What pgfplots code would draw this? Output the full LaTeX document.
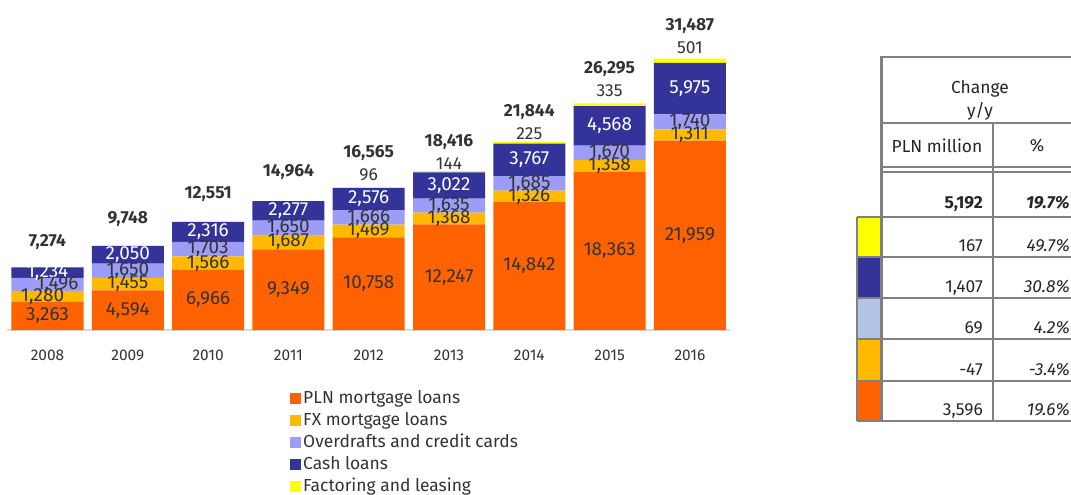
\documentclass[border=0pt]{standalone}
\usepackage{fontspec}
\setmainfont{Fira Sans}
\usepackage{pgfplots}
\usepackage{pgfplotstable}
\pgfplotsset{compat=1.18}
\definecolor{cPLN}{HTML}{FF6200}
\definecolor{cFX}{HTML}{FFBA00}
\definecolor{cOD}{HTML}{9D9DF7}
\definecolor{cCash}{HTML}{333399}
\definecolor{cFact}{HTML}{FFFF00}
\definecolor{cODtab}{HTML}{B3C3E3}
\definecolor{txt}{HTML}{333333}
\definecolor{tabline}{HTML}{808080}
\definecolor{axisgray}{HTML}{D9D9D9}

\pgfplotstableread{
x pln fx od cash fact tot dy fxx odx
0 3263 1280 1496 1234 0.01 7274 21 -5 10
1 4594 1455 1650 2050 0.01 9748 22 0 0
2 6966 1566 1703 2316 0.01 12551 23 0 0
3 9349 1687 1650 2277 0.01 14964 24 0 0
4 10758 1469 1666 2576 96 16565 7 0 0
5 12247 1368 1635 3022 144 18416 2 0 0
6 14842 1326 1685 3767 225 21844 3 0 0
7 18363 1358 1670 4568 335 26295 8 0 0
8 21959 1311 1740 5975 501 31487 7 0 0
}\data

\newcommand{\fs}{\fontsize{17.5}{21}\selectfont}
\newcommand{\fl}{\fontsize{19}{22}\selectfont}

\begin{document}
\begin{tikzpicture}[x=1bp,y=1bp]
\path[use as bounding box] (0,0) rectangle (1071,-495);
\begin{axis}[
  at={(7.35bp,-330bp)}, anchor=south west,
  scale only axis, width=722.7bp, height=327.6bp,
  xmin=-0.5, xmax=8.5, ymin=0, ymax=38000,
  clip=false,
  ybar stacked, bar width=72bp,
  axis y line=none, axis x line*=bottom,
  x axis line style={draw=axisgray, line width=2bp, -},
  xtick={0,...,8},
  xticklabels={2008,2009,2010,2011,2012,2013,2014,2015,2016},
  major tick length=0pt,
  xticklabel style={font=\fontsize{15.5}{18}\selectfont, text=txt, yshift=-16bp},
  /pgf/number format/1000 sep={,},
  /pgf/number format/assume math mode=true,
  every node near coord/.append style={text=txt, inner sep=0pt},
  seg/.style={
    visualization depends on={\thisrow{#1} \as \rawy},
    nodes near coords={\pgfmathprintnumber{\rawy}},
    every node near coord/.append style={anchor=center, font=\fl},
  },
  legend style={at={(0.387,-0.171)}, anchor=north west, draw=none, fill=none,
    font=\fs, text=txt, row sep=1bp,
    nodes={inner sep=2bp, text height=13bp, text depth=4bp},
    /tikz/every odd column/.append style={column sep=0bp}},
  legend cell align=left,
  legend image code/.code={\fill[#1] (0bp,-5.5bp) rectangle (11bp,5.5bp);},
]
\addplot[draw=none, fill=cPLN, seg=pln] table[x=x, y=pln] {\data};
\addplot[draw=none, fill=cFX, seg=fx,
  visualization depends on={\thisrow{fxx} \as \fxx},
  every node near coord/.append style={xshift=\fxx}] table[x=x, y=fx] {\data};
\addplot[draw=none, fill=cOD, seg=od,
  visualization depends on={\thisrow{odx} \as \odx},
  every node near coord/.append style={xshift=\odx}] table[x=x, y=od] {\data};
\addplot[draw=none, fill=cCash, seg=cash, every node near coord/.append style={text=white}] table[x=x, y=cash] {\data};
\addplot[draw=none, fill=cFact,
  visualization depends on={\thisrow{fact} \as \fv},
  visualization depends on={\thisrow{tot} \as \tv},
  visualization depends on={\thisrow{dy} \as \dyv},
  nodes near coords={\textbf{\pgfmathprintnumber{\tv}}\ifdim\fv pt>0.5pt\\[2bp]\pgfmathprintnumber{\fv}\fi},
  every node near coord/.append style={font=\fs, anchor=south, align=center, text depth=0pt, yshift=\dyv}] table[x=x, y=fact] {\data};
\legend{PLN mortgage loans, FX mortgage loans, Overdrafts and credit cards, Cash loans, Factoring and leasing}
\end{axis}

% table on the right
\begin{scope}[line width=2bp, draw=tabline]
  \fill[cFact] (857,-216.7) rectangle (881.7,-257.3);
  \fill[cCash] (857,-257.3) rectangle (881.7,-298.3);
  \fill[cODtab] (857,-298.3) rectangle (881.7,-339.3);
  \fill[cFX] (857,-339.3) rectangle (881.7,-381);
  \fill[cPLN] (857,-381) rectangle (881.7,-420.7);
  \draw[tabline] (881.7,-56.7) -- (1075,-56.7);
  \draw[tabline] (881.7,-123.3) -- (1075,-123.3);
  \draw[tabline] (881.7,-166.7) -- (1075,-166.7);
  \draw[tabline] (881.7,-171.7) -- (1075,-171.7);
  \foreach \yy in {216.7,257.3,298.3,339.3,381} \draw[tabline] (857,-\yy) -- (1075,-\yy);
  \draw[tabline] (857,-420.7) -- (1075,-420.7);
  \draw[tabline] (857,-216.7) -- (857,-420.7);
  \draw[tabline, line width=3bp] (881.7,-55.7) -- (881.7,-420.7);
  \draw[tabline] (993.3,-123.3) -- (993.3,-420.7);
\end{scope}
\begin{scope}[every node/.style={font=\fs, text=black!85, inner sep=0pt}]
  \node at (980,-89) {Change};
  \node at (980,-111) {y/y};
  \node at (937,-146) {PLN million};
  \node at (1037,-146) {\%};
  \node[anchor=base east] at (983,-209) {\textbf{5,192}};
  \node[anchor=base east] at (1070,-209) {\textbf{\textit{19.7\%}}};
  \node[anchor=base east] at (983,-252) {167};
  \node[anchor=base east] at (1070,-252) {\textit{49.7\%}};
  \node[anchor=base east] at (983,-293) {1,407};
  \node[anchor=base east] at (1070,-293) {\textit{30.8\%}};
  \node[anchor=base east] at (983,-334) {69};
  \node[anchor=base east] at (1070,-334) {\textit{4.2\%}};
  \node[anchor=base east] at (983,-375.5) {-47};
  \node[anchor=base east] at (1070,-375.5) {\textit{-3.4\%}};
  \node[anchor=base east] at (983,-415.5) {3,596};
  \node[anchor=base east] at (1070,-415.5) {\textit{19.6\%}};
\end{scope}
\end{tikzpicture}
\end{document}
